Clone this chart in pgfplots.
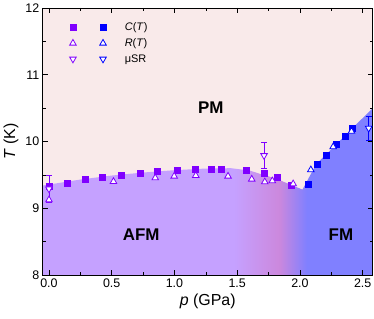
\documentclass[border=0pt]{standalone}
\usepackage{fontspec}
\setmainfont{Liberation Sans}
\usepackage{pgfplots}
\pgfplotsset{compat=1.18}

\definecolor{pmbg}{RGB}{249,234,234}
\definecolor{afm}{RGB}{197,161,255}
\definecolor{midc}{RGB}{204,136,221}
\definecolor{fmc}{RGB}{128,128,255}
\definecolor{vio}{RGB}{128,0,255}
\definecolor{blu}{RGB}{0,0,255}

\pgfdeclarehorizontalshading{phase}{100bp}{color(0bp)=(afm); color(54bp)=(afm); color(60.8bp)=(midc); color(65bp)=(fmc); color(100bp)=(fmc)}

\begin{document}
\begin{tikzpicture}
\begin{axis}[
  name=ax, scale only axis, width=330bp, height=267bp,
  xmin=-0.05, xmax=2.58, ymin=8, ymax=12,
  xtick={0,0.5,1,1.5,2,2.5}, minor x tick num=1,
  ytick={8,9,10,11,12}, minor y tick num=1,
  xtick pos=both, ytick pos=both,
  xticklabel pos=lower, yticklabel pos=left,
  tick align=inside,
  major tick length=5bp, minor tick length=3bp,
  tick style={black, line width=0.6pt},
  axis line style={black, line width=0.8pt},
  axis on top,
  /pgf/number format/assume math mode=true,
  tick label style={font=\fontsize{12.5}{14}\selectfont},
  x tick label style={/pgf/number format/.cd, fixed, fixed zerofill, precision=1},
  y tick label style={/pgf/number format/.cd, fixed, precision=0},
  xlabel={\textit{p} (GPa)}, ylabel={\textit{T} (K)},
  label style={font=\fontsize{16}{19}\selectfont},
  axis background/.style={fill=pmbg},
  legend columns=2,
  legend cell align=left,
  legend image code/.code={\path[draw=none,fill=none] (-1.8bp,0bp) -- (16.8bp,0bp);
     \draw plot[only marks] coordinates {(0bp,0bp)};},
  legend style={draw=none, fill=none, at={(0.072,0.961)}, anchor=north west,
    font=\fontsize{11}{13}\selectfont, column sep=3bp, row sep=2.5bp},
]
\addplot[draw=none, shading=phase, shade, forget plot] coordinates {
(-0.05,8) (-0.05,9.34) (0,9.355) (0.25,9.43) (0.5,9.49) (0.75,9.535) (1.0,9.57)
(1.25,9.595) (1.45,9.6) (1.6,9.565) (1.69,9.51) (1.8,9.45) (1.93,9.35) (2.02,9.28)
(2.13,9.66) (2.58,10.5) (2.58,8)} \closedcycle;

% C(T) purple
\addplot[only marks, mark=square*, mark size=3bp, color=vio] coordinates {
(0,9.33) (0.146,9.38) (0.288,9.43) (0.426,9.46) (0.575,9.495) (0.727,9.53)
(0.865,9.555) (1.025,9.575) (1.163,9.585) (1.294,9.59) (1.371,9.585)
(1.573,9.565) (1.712,9.53) (1.818,9.465) (1.93,9.345)};
\addlegendentry{\mbox{}}
% C(T) blue
\addplot[only marks, mark=square*, mark size=3bp, color=blu] coordinates {
(2.069,9.36) (2.14,9.655) (2.211,9.8) (2.289,9.96) (2.359,10.083) (2.418,10.198)};
\addlegendentry{\textit{C}(\textit{T})}
% R(T) purple
\addplot[only marks, mark=triangle*, mark size=3.8bp, color=vio, mark options={fill=white, line width=0.8pt}] coordinates {
(0,9.125) (0.514,9.4) (0.847,9.455) (0.998,9.48) (1.17,9.49) (1.427,9.48)
(1.616,9.435) (1.72,9.395) (1.78,9.41) (1.946,9.365)};
\addlegendentry{\mbox{}}
% R(T) blue
\addplot[only marks, mark=triangle*, mark size=3.8bp, color=blu, mark options={fill=white, line width=0.8pt}] coordinates {
(2.087,9.575) (2.265,9.92) (2.411,10.152)};
\addlegendentry{\textit{R}(\textit{T})}
% muSR purple
\addplot[only marks, mark=triangle*, mark size=3.8bp, color=vio, mark options={fill=white, line width=0.8pt, rotate=180},
  error bars/.cd, y dir=both, y explicit, error mark options={rotate=90, mark size=3bp, line width=0.8pt}, error bar style={line width=0.8pt}]
  coordinates {(0,9.29) +- (0,0.2) (1.714,9.79) +- (0,0.2)};
\addlegendentry{\mbox{}}
% muSR blue
\addplot[only marks, mark=triangle*, mark size=3.8bp, color=blu, mark options={fill=white, line width=0.8pt, rotate=180},
  error bars/.cd, y dir=both, y explicit, error mark options={rotate=90, mark size=3bp, line width=0.8pt}, error bar style={line width=0.8pt}]
  coordinates {(2.548,10.2) +- (0,0.18)};
\addlegendentry{μSR}

\node[font=\bfseries\fontsize{17}{20}\selectfont] at (axis cs:1.29,10.5) {PM};
\node[font=\bfseries\fontsize{17}{20}\selectfont] at (axis cs:0.735,8.6) {AFM};
\node[font=\bfseries\fontsize{17}{20}\selectfont] at (axis cs:2.327,8.6) {FM};
\end{axis}
\pgfresetboundingbox
\path[use as bounding box] ([shift={(-42.7bp,-44bp)}]ax.south west) rectangle ([shift={(1.3bp,8bp)}]ax.north east);
\end{tikzpicture}
\end{document}
